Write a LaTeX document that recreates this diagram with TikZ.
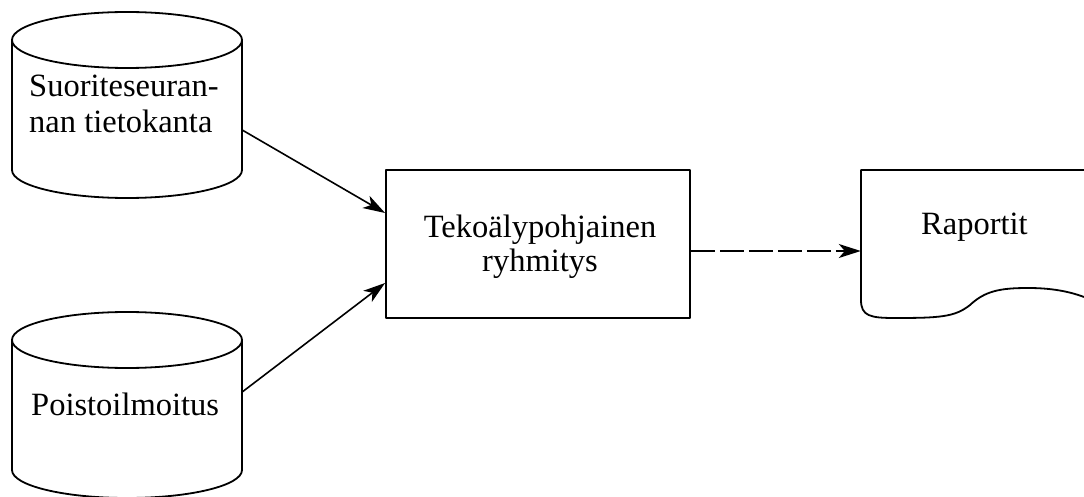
\documentclass[tikz,border=0pt]{standalone}
\usepackage{fontspec}
\setmainfont{Liberation Serif}
\usetikzlibrary{arrows.meta,calc}
\begin{document}
\begin{tikzpicture}[x=1pt,y=-1pt,
  outline/.style={line width=1.8pt,line join=round},
  conn/.style={line width=1.6pt,-{Stealth[length=22pt,width=14pt,inset=6pt]}},
  anchorbox/.style={draw=none,inner sep=0pt,minimum width=#1},
  lbl/.style={inner sep=0pt,font=\fontsize{32.5}{36}\selectfont}]
\useasboundingbox (0,0) rectangle (1084,497);
\fill[white] (0,0) rectangle (1084,497);
% invisible anchor boxes for the shapes
\node[anchorbox=230pt,minimum height=130pt] (db1) at (127,105) {};
\node[anchorbox=230pt,minimum height=130pt] (db2) at (127,405) {};
\node[outline,draw,inner sep=0pt,minimum width=304pt,minimum height=148pt] (box) at (538,244) {};
\node[anchorbox=223pt,minimum height=148pt] (doc) at (972.5,244) {};
% cylinder 1
\draw[outline] (127,40) ellipse [x radius=115,y radius=28];
\draw[outline] (12,40) -- (12,170) arc[start angle=180,end angle=360,x radius=115,y radius=-28] -- (242,40);
% cylinder 2
\draw[outline] (127,340) ellipse [x radius=115,y radius=28];
\draw[outline] (12,340) -- (12,470) arc[start angle=180,end angle=360,x radius=115,y radius=-28] -- (242,340);
% document
\draw[outline] (1084,170) -- (861,170) -- (861,300)
  .. controls (861,316) and (870,318) .. (895,318)
  .. controls (940,318) and (955,317) .. (970,305)
  .. controls (985,291) and (1000,288) .. (1028,288)
  .. controls (1050,288) and (1068,291) .. (1084,297);
% texts
\node[lbl,align=left,anchor=west] (t1) at (29,104) {Suoriteseuran-\\nan tietokanta};
\node[lbl,anchor=base west] (t2) at (31,415) {Poistoilmoitus};
\node[lbl,align=center,font=\fontsize{32.5}{34}\selectfont] (t3) at (540,246.5) {Tekoälypohjainen\\ryhmitys};
\node[lbl,anchor=base west] (t4) at (921,234) {Raportit};
% connectors
\draw[conn] ([yshift=-25pt]db1.east) -- ([yshift=31pt]box.west);
\draw[conn] ([yshift=13pt]db2.east) -- ([yshift=-39pt]box.west);
\draw[conn,dash pattern=on 24pt off 5pt] ([yshift=-7pt]box.east) -- ([yshift=-7pt]doc.west);
\end{tikzpicture}
\end{document}
